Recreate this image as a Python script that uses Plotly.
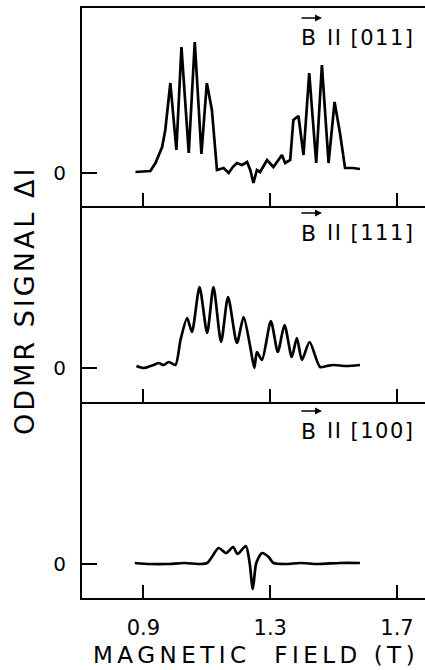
import plotly.graph_objects as go

# ---------------- data ----------------
# Magnetic field (T) and ODMR signal (arbitrary units) for each orientation
field_011 = [0.875, 0.922, 0.938, 0.959, 0.969, 0.985, 1.004, 1.020, 1.043, 1.062,
             1.083, 1.100, 1.116, 1.132, 1.153, 1.169, 1.182, 1.195, 1.211, 1.227,
             1.237, 1.247, 1.258, 1.268, 1.290, 1.310, 1.337, 1.347, 1.363, 1.373,
             1.389, 1.405, 1.423, 1.445, 1.463, 1.484, 1.503, 1.520, 1.536, 1.560,
             1.583]
signal_011 = [1, 2, 10, 26, 43, 90, 23, 126, 20, 131,
              19, 90, 63, 3, 5, 0, 6, 10, 8, 11,
              3, -10, 3, 1, 13, 6, 18, 10, 13, 53,
              57, 18, 100, 10, 108, 10, 71, 40, 5, 5,
              4]

field_111 = [0.878, 0.901, 0.932, 0.948, 0.964, 0.980, 1.001, 1.017, 1.038, 1.053,
             1.077, 1.101, 1.121, 1.145, 1.167, 1.195, 1.216, 1.237, 1.250, 1.258,
             1.274, 1.302, 1.324, 1.345, 1.368, 1.384, 1.400, 1.424, 1.457, 1.478,
             1.499, 1.540, 1.583]
signal_111 = [2, 0, 3, 5, 3, 6, 3, 28, 50, 36,
              81, 35, 81, 26, 71, 25, 51, 21, 0, 16,
              8, 47, 16, 43, 11, 30, 8, 26, 1, 2,
              3, 2, 3]

field_100 = [0.873, 0.920, 0.975, 1.030, 1.080, 1.101, 1.116, 1.137, 1.161, 1.183,
             1.197, 1.223, 1.235, 1.245, 1.256, 1.274, 1.295, 1.310, 1.350, 1.394,
             1.450, 1.520, 1.583]
signal_100 = [1, 0, 0, 1, 0, 1, 7, 16, 11, 17,
              10, 18, 1, -25, 1, 11, 7, 1, 0, 1,
              0, 1, 1]

orientations = ["[011]", "[111]", "[100]"]
x_tick_vals = [0.9, 1.3, 1.7]
x_tick_text = ["0.9", "1.3", "1.7"]
x_title = "MAGNETIC\u00a0\u00a0FIELD\u00a0(T)"
y_title = "ODMR\u00a0SIGNAL\u00a0\u0394I"

# ---------------- figure ----------------
FONT = "DejaVu Sans"
W, H = 425, 670
ML, MR, MT, MB = 82, 0, 8, 72
pw, ph = W - ML - MR, H - MT - MB

def px_to_paper_x(px):
    return (px - ML) / pw

def px_to_paper_y(py):
    return (H - MB - py) / ph

fig = go.Figure()

series = [(field_011, signal_011, "y", "x3", "linear"),
          (field_111, signal_111, "y2", "x2", "spline"),
          (field_100, signal_100, "y3", "x", "spline")]
for fx, sy, yref, xref, shape in series:
    fig.add_trace(go.Scatter(
        x=fx, y=sy, mode="lines", xaxis=xref, yaxis=yref,
        line=dict(color="black", width=2.7, shape=shape, smoothing=0.7),
        showlegend=False, hoverinfo="skip"))

x_range = [0.7063, 1.7882]
panel_px = [(8, 206), (206, 402), (402, 598)]  # top, bottom pixel of each panel
zero_px = [173, 368, 564]
domains = [[px_to_paper_y(b), px_to_paper_y(t)] for t, b in panel_px]

def yrange(i):
    t, b = panel_px[i]
    z = zero_px[i]
    return [-(b - z), z - t]

common_x = dict(range=x_range, tickvals=x_tick_vals, ticks="inside", ticklen=13,
                tickwidth=1.6, tickcolor="black", showline=True, linecolor="black",
                linewidth=2, showgrid=False, zeroline=False, fixedrange=True)
common_y = dict(tickvals=[0], ticktext=["0"], ticks="inside", ticklen=15,
                tickwidth=1.6, tickcolor="black", showline=True, linecolor="black",
                linewidth=2, showgrid=False, zeroline=False, fixedrange=True,
                tickfont=dict(family=FONT, size=20, color="black"),
                ticklabelstandoff=10)

fig.update_layout(
    xaxis=dict(**common_x, anchor="y3", ticktext=x_tick_text, showticklabels=True,
               tickfont=dict(family=FONT, size=21, color="black"),
               ticklabelstandoff=10),
    xaxis2=dict(**common_x, anchor="y2", showticklabels=False, matches="x"),
    xaxis3=dict(**common_x, anchor="y", showticklabels=False, matches="x", mirror=True),
    yaxis=dict(**common_y, domain=domains[0], range=yrange(0), anchor="x3"),
    yaxis2=dict(**common_y, domain=domains[1], range=yrange(1), anchor="x2"),
    yaxis3=dict(**common_y, domain=domains[2], range=yrange(2), anchor="x"),
    width=W, height=H,
    margin=dict(l=ML, r=MR, t=MT, b=MB, pad=0),
    paper_bgcolor="white", plot_bgcolor="white",
    font=dict(family=FONT, color="black"),
)

annotations = []
annotations.append(dict(text='<span style="letter-spacing:4.5px">' + x_title + '</span>',
                        xref="paper", yref="paper",
                        x=px_to_paper_x(256), y=px_to_paper_y(655),
                        xanchor="center", yanchor="middle", showarrow=False,
                        font=dict(family=FONT, size=23, color="black")))
annotations.append(dict(text='<span style="letter-spacing:3px">' + y_title + '</span>',
                        xref="paper", yref="paper",
                        x=px_to_paper_x(24), y=px_to_paper_y(301),
                        xanchor="center", yanchor="middle", showarrow=False,
                        textangle=-90,
                        font=dict(family=FONT, size=27, color="black")))

label_center_px = [38, 233, 431]
for lab, yc in zip(orientations, label_center_px):
    annotations.append(dict(text="B", xref="paper", yref="paper",
                            x=px_to_paper_x(299), y=px_to_paper_y(yc),
                            xanchor="left", yanchor="middle", showarrow=False,
                            font=dict(family=FONT, size=22, color="black")))
    annotations.append(dict(text='<span style="letter-spacing:1.5px">II ' + lab + '</span>',
                            xref="paper", yref="paper",
                            x=px_to_paper_x(325), y=px_to_paper_y(yc),
                            xanchor="left", yanchor="middle", showarrow=False,
                            font=dict(family=FONT, size=21, color="black")))
    annotations.append(dict(text="", xref="paper", yref="paper",
                            x=px_to_paper_x(322), y=px_to_paper_y(yc - 20),
                            ax=-22, ay=0, axref="pixel", ayref="pixel",
                            showarrow=True, arrowhead=2, arrowsize=1,
                            arrowwidth=1.4, arrowcolor="black"))
fig.update_layout(annotations=annotations)

fig.write_html("out.html", config={"displayModeBar": False},
               post_script="document.body.style.margin='0';document.body.style.overflow='hidden';")
